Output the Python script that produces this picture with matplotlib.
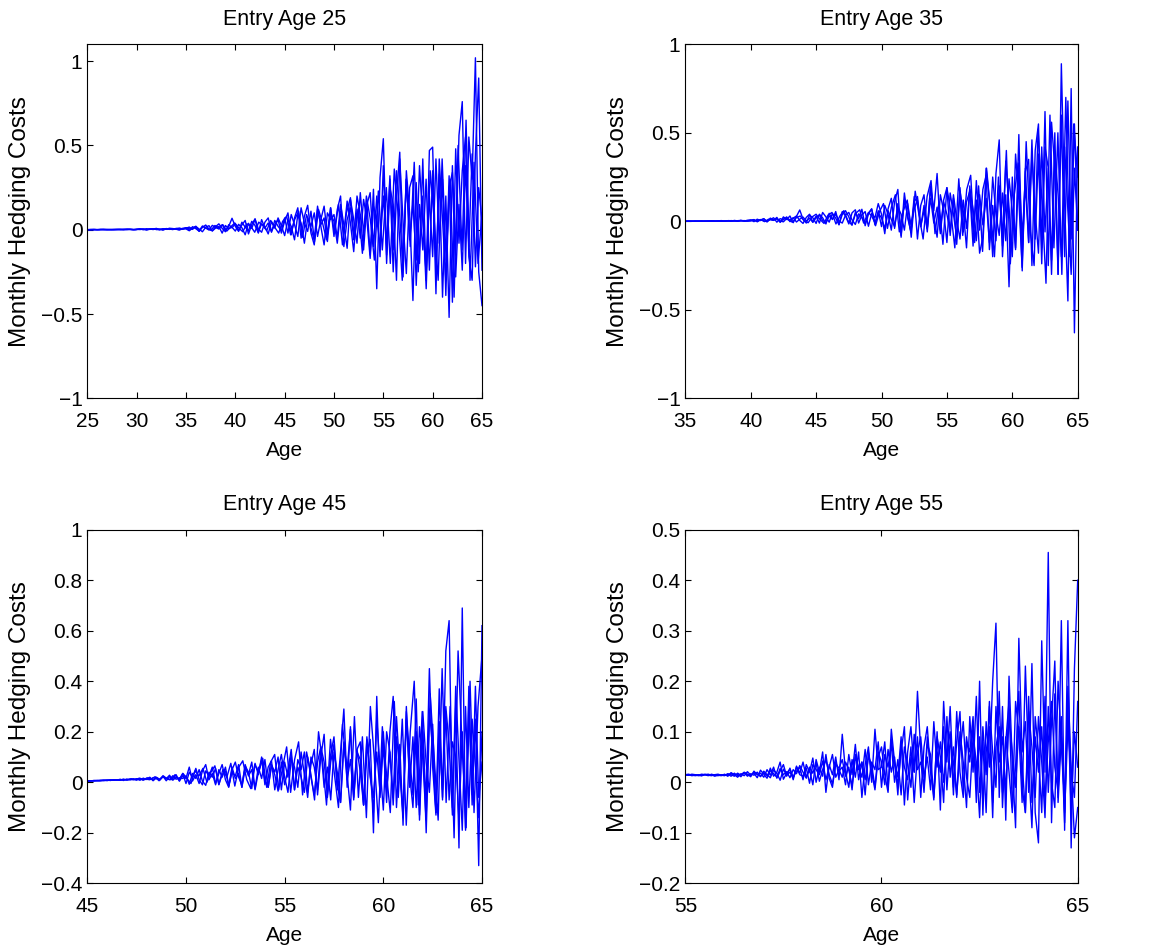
import numpy as np
import matplotlib
matplotlib.use("Agg")
import matplotlib.pyplot as plt
from matplotlib.ticker import MultipleLocator, FuncFormatter

DPI = 100
TICK_SIZE = 15
TITLE_SIZE = 15.5
XLABEL_SIZE = 15
YLABEL_SIZE = 17.5
LINE_COLOR = (0, 0, 1)
RETIREMENT_AGE = 65

# valores em milesimos, um caminho por lista
# entrada 25
entry25_a = [0, 1, 0, 1, 2, 1, 0, 1, 2, 1, 2, 1, 3, 2, 1,
             3, 1, 4, 2, 5, 1, 6, 3, 2, 7, 4, 1, 8, 5, 3,
             12, -4, 18, 6, -8, 22, 10, -2, 26, 14, 4, 30, -6, 20, 68,
             20, -10, 45, 15, -5, 50, 25, -20, 60, 10, 40, -15, 55, 20, -5,
             70, -20, 90, 30, -40, 130, 40, -10, 110, -60, 140, 20, -90, 100, 60,
             90, -50, 150, 30, -110, 180, 60, -80, 220, -20, 160, -150, 240, -350, 310,
             540, -150, 300, -250, 200, 460, -280, 350, 100, -420, 280, -200, 420, -300, 470,
             490, -250, 330, -400, 200, -520, 380, -150, 560, 760, -200, 550, 300, 1020, -250, -450]
entry25_b = [1, 0, 2, 0, 1, 2, 0, 1, 1, 2, 0, 3, 1, 2, 0,
             2, 5, 0, 6, 2, 4, 8, -1, 5, 3, 9, 2, 6, 10, 4,
             8, 16, 2, 20, -10, 14, 28, 4, -6, 18, 35, 8, -12, 30, 12,
             35, -5, 28, 55, -25, 30, 65, 5, -15, 45, 70, -10, 30, 60, -20,
             50, 100, -30, 70, 130, -50, 80, 145, -20, -90, 120, 30, 70, -70, 130,
             -40, 120, 200, -100, 60, 130, -60, 200, 90, -120, 150, 220, -100, 200, -160,
             380, -200, 250, 150, -300, 420, 50, -260, 250, 320, -330, 150, -120, 300, -240,
             350, -380, 420, 60, -300, 320, -430, 480, -80, 350, 550, -160, -300, 450, 900, -240]
entry25_c = [0, 1, 1, 0, 1, 0, 2, 1, 0, 1, 2, 0, 1, 2, 1,
             1, 3, 4, -2, 3, 6, 1, 4, -3, 6, 2, 7, 3, -2, 6,
             5, -6, 10, 20, 4, -12, 15, 24, -8, 10, 20, -20, 25, 6, 15,
             -8, 32, 12, -30, 38, 8, 62, -15, 35, 18, -25, 48, 10, 70, 25,
             -35, 60, 20, -60, 90, 40, -80, 70, 20, 100, -40, 60, 140, -30, 90,
             50, -80, 110, -20, 170, 40, -130, 120, -50, 180, 60, -170, 140, 70, -100,
             200, -90, 320, -120, 350, 80, -240, 300, -60, 160, -180, 380, 50, -260, 200,
             -160, 420, -80, 300, -390, 250, 340, -280, 150, -240, 380, -100, 450, -220, 250, 50]
entry25_d = [0, 1, 1, 0, 2, 1, 0, 1, 2, 1, 3, 2, 0, 4, 2, 1, 5, 3, 0, 6, 2, 8, 4, 1, 9,
             12, 2, 16, -5, 20, 8, -3, 25, 12, 30, -8, 18, 40, 10, -12, 35, 20, -15, 45, 25, -5, 55, 15, -20, 50,
             80, -30, 60, 110, -45, 90, 20, -70, 120, 40, -60, 130, -20, 150, -90, 100, 190, -60, 130, -140, 200, 60, -180, 230, -120,
             250, -200, 360, 80, -300, 300, -100, 400, -250, 200, -350, 350, 60, -300, 420, -180, 300, -400, 500, -120, 650, -300, 400, -200, 100]

# entrada 35
entry35_a = [0, 1, 0, 2, 1, 0, 2, 1, 3, 0, 2, 4, 1, 3, 0, 5, 2, 4, 1, 6,
             8, -2, 12, 4, 15, -4, 18, 6, 22, -6, 25, 10, 30, -8, 28, 64, 12, -10, 35, 20,
             -12, 40, 20, -15, 45, 10, 55, -18, 38, 60, 25, -22, 50, 15, 68, -25, 40, 70, -20, 60,
             -30, 90, 40, -50, 110, 180, -90, 120, 30, -60, 140, -100, 90, 150, -40, 200, 60, 270, -50, 120,
             190, -80, 130, -130, 170, 60, -150, 200, -60, 120, -180, -90, 300, 120, -200, 270, 460, -200, 150, -370,
             250, -150, 490, -200, 280, 350, -250, 400, 550, -150, 620, -250, 560, 300, -300, 890, 100, -450, 750, -630, 420]
entry35_b = [1, 0, 1, 1, 0, 2, 0, 1, 2, 1, 3, 0, 2, 1, 4, 2, 0, 5, 3, 1,
             4, 10, -3, 8, 14, 0, 10, 20, -5, 15, 8, 25, -2, 18, 30, 5, -12, 22, 40, -4,
             30, -10, 50, 25, -5, 45, 18, -20, 55, 30, -15, 48, 65, -10, 35, 55, -28, 45, 20, 100,
             40, -70, 70, 130, -40, 100, -80, 160, 20, -60, 110, 140, -30, 90, -60, 190, 30, -90, 150, 60,
             -120, 160, 40, -90, 190, -60, 110, 170, -140, 230, -50, 180, 260, -160, 90, -110, 200, -140, 340, 80,
             -200, 380, 120, -260, 300, -120, 460, -100, 380, -240, 420, 300, -220, 500, -300, 600, -200, 680, -100, 550, -50]
entry35_c = [0, 1, 1, 0, 1, 0, 1, 2, 0, 1, 1, 2, 0, 2, 1, 3, 1, 2, 4, 2,
             2, 6, 1, 9, 3, -1, 12, 5, 14, 2, -3, 16, 9, 20, -4, 12, 24, 2, 18, -6,
             20, 35, 5, -8, 30, 12, 40, 2, -10, 35, 50, 8, -18, 42, 22, -12, 50, 30, -8, 45,
             20, -40, 60, 10, -30, 80, 40, -50, 100, -20, 70, 120, -30, 60, -40, 130, -10, 80, -70, 110,
             40, -60, 150, 10, -100, 120, -40, 180, 70, -110, 150, -20, 130, -120, 250, 40, -80, 160, -110, 240,
             60, -160, 300, -80, 200, -120, 380, 50, -180, 420, -60, 300, -300, 400, 150, -200, 420, 60, -300, 300, -50]
entry35_d = [0, 1, 0, 1, 2, 0, 1, 3, 1, 0, 2, 4, 1, 3, 5, 0, 4, 8, 2, 10, -2, 12, 6, 15, -4,
             18, 8, -5, 20, 30, 2, -8, 25, 40, 10, -12, 35, 50, -15, 30, 60, 5, -20, 45, 65, -10, 40, 70, -25, 55,
             100, -40, 80, 150, -60, 60, 120, -90, 170, 30, -100, 140, 230, -70, 110, -130, 190, 50, -150, 240, -80, 180, 260, -120, 200,
             -170, 300, 60, -200, 250, -90, 400, -240, 150, 330, -280, 450, -50, -250, 520, 100, -350, 600, -150, 500, -300, 700, -200, 550, 250]

# entrada 45
entry45_a = [5, 6, 5, 7, 6, 8, 7, 9, 8, 10, 8, 11, 9, 12, 10, 14, 9, 15, 11, 18, 8, 20, 12, 24, 6, 22, 14, 30, 4, 25,
             15, 60, 5, 30, -5, 45, 70, 10, 35, -10, 50, 20, 60, -15, 40, 25, 70, -20, 55, 30, 80, -25, 60, 15, 90, -20, 70, 40, 100, -30,
             80, 20, 110, -30, 90, 50, 120, -40, 70, 130, -50, 100, 190, -60, 80, 150, -30, 120, 290, -20, 220, -40, 130, 160, -90, 110, 170, -200, 340, -60,
             150, -80, 200, 340, -100, 150, -170, 280, 100, -50, 330, -150, 200, -80, 450, 60, -130, 370, -60, 520, 640, -100, 300, -260, 690, -180, 380, -50, 250, -330, 620]
entry45_b = [6, 5, 7, 6, 8, 6, 9, 7, 10, 8, 12, 7, 13, 9, 14, 8, 16, 10, 12, 20, 6, 18, 10, 22, 14, 28, 8, 20, 12, 35,
             -5, 40, 20, 55, 10, -10, 45, 25, 60, -5, 35, 70, 10, -20, 50, 80, 20, -10, 65, 40, -25, 75, 30, 100, -10, 60, 85, -30, 50, 110,
             20, -40, 90, 60, -20, 120, 30, -60, 100, 60, -30, 140, 80, -50, 110, 180, -10, -80, 150, 50, 210, -60, 120, 90, -90, 170, 40, -120, 250, 60,
             -110, 200, 120, -60, 260, 40, -140, 300, -20, 180, -100, 220, 90, -150, 290, 130, -120, 240, -70, 300, 150, -130, 380, 90, -190, 300, -100, 250, 60, -140, 200]
entry45_c = [5, 6, 6, 7, 7, 8, 8, 9, 8, 10, 9, 11, 10, 12, 11, 13, 9, 16, 12, 10, 18, 14, 8, 22, 16, 10, 26, 12, 18, 15,
             25, -8, 35, 15, 50, 5, -12, 40, 20, 55, -8, 30, 45, -15, 60, 15, 35, -20, 70, 25, 50, -30, 40, 90, 5, -20, 65, 30, -35, 80,
             -10, 50, 130, -30, 60, 20, -40, 100, 20, -50, 80, 140, -20, 60, -70, 120, 40, -80, 160, 10, 90, -70, 130, 40, -90, 180, 20, -60, 120, -40,
             200, -30, 120, -90, 180, 60, -120, 250, 30, -100, 200, -130, 280, 80, -40, 230, -120, 180, -30, 280, -70, 160, 100, -150, 200, -190, 320, -90, 380, -60, 80]
entry45_d = [5, 6, 7, 6, 8, 7, 9, 10, 8, 12, 9, 14, 10, 16, 8, 18, 12, 22, 6, 26, 14, 10, 30, 8, 35,
             15, -5, 45, 25, 55, 0, 40, 65, -10, 50, 20, 75, -15, 60, 85, 10, -25, 70, 40, 95, -20, 80, 110, -30, 60,
             140, -40, 90, 160, -50, 120, 40, -70, 200, 80, -90, 170, 30, -100, 230, 60, -110, 260, -60, 180, -140, 300, 90, -160, 220,
             40, -120, 320, -60, 250, -170, 200, 400, -90, 280, -200, 350, 100, -150, 450, -80, 300, -220, 520, 150, -180, 400, -120, 300, 500]

# entrada 55: mensal
entry55_a = [15, 14, 15, 13, 14, 16, 15, 14, 13, 15, 16, 14,
             13, 17, 15, 12, 18, 14, 20, 16, 11, 22, 15, 18,
             10, 25, 14, 30, 8, 22, 35, 12, 28, 5, 32, 18,
             40, 10, 25, -5, 45, 20, 60, -20, 35, 15, 50, 5,
             95, 20, -10, 45, 10, 60, -30, 35, 70, 0, 105, 25,
             30, 80, -15, 105, 40, 10, 90, -45, 60, 110, 20, 180,
             60, -20, 90, 30, -35, 100, -55, 160, 40, 150, -10, 80,
             140, -20, 90, 40, 110, -40, 200, -65, 120, 30, 200, 315,
             -30, 150, -75, 210, 40, -90, 285, 60, 120, -20, 235, -60,
             -120, 280, 20, 455, -80, 175, -30, 320, -95, 320, -130, 225, 400]
entry55_b = [14, 15, 13, 14, 15, 13, 16, 14, 15, 12, 14, 13,
             16, 12, 19, 15, 10, 17, 13, 21, 14, 18, 9, 24,
             16, 8, 28, 12, 20, 40, 6, 18, 26, 10, 22, 30,
             5, 35, 20, 48, 0, 30, 12, 55, 8, -10, 40, 22,
             30, -5, 55, 15, 75, 5, 40, -25, 60, 20, -15, 50,
             70, 15, -20, 85, 35, -5, 60, 110, -35, 50, 20, 90,
             -30, 70, 110, 20, -20, 90, 50, -40, 130, 10, 70, -30,
             100, 40, -50, 130, 20, 170, -20, 80, -60, 150, 60, -10,
             180, -50, 90, 20, -60, 160, 100, -40, 230, 30, -90, 130,
             60, -60, 170, -20, 120, 240, -40, 90, -80, 190, 30, -110, -50]
entry55_c = [15, 16, 14, 15, 14, 13, 15, 16, 14, 15, 13, 15,
             14, 16, 12, 18, 13, 15, 19, 12, 17, 14, 20, 11,
             22, 15, 9, 24, 18, 4, 26, 14, 20, 8, 30, 15,
             12, 28, -2, 35, 25, 15, 42, 5, 30, 55, 10, 25,
             10, 40, 25, -8, 50, 30, 10, 65, -5, 40, 25, 80,
             -10, 55, 30, 75, 0, 45, -25, 70, 35, -10, 95, 25,
             40, -10, 75, 55, -30, 60, 20, 110, -15, 85, 40, -25,
             60, 120, 10, -30, 90, 40, -70, 110, 15, 160, -40, 70,
             110, -20, 80, 160, -50, 30, 180, -10, -60, 140, 70, -30,
             130, 40, -70, 150, 0, -50, 200, 80, -40, 150, -60, 100, 30]
entry55_d = [15, 14, 16, 15, 13, 14, 15, 13, 16, 14, 15, 14,
             15, 13, 18, 14, 16, 11, 19, 15, 13, 20, 16, 12,
             19, 13, 23, 17, 10, 27, 15, 21, 9, 25, 17, 33,
             20, 8, 30, 18, 38, 2, 25, 45, 15, -3, 35, 28,
             45, 12, 30, -15, 55, 25, 40, 5, 50, 35, -10, 60,
             40, -5, 65, 20, 50, -25, 80, 30, 5, 70, -40, 60,
             90, 10, 50, -15, 120, 30, 80, 0, 60, 100, -25, 140,
             20, -30, 80, 60, 130, -10, 90, -40, 60, 110, -70, 150,
             40, 90, -20, 130, 60, -10, 110, 40, -60, 170, -40, 90,
             20, 110, -40, 80, 160, 30, -20, 130, -60, 110, 20, -30, 160]

ENTRY_AGES = [25, 35, 45, 55]
PATHS = [[entry25_a, entry25_b, entry25_c, entry25_d],
         [entry35_a, entry35_b, entry35_c, entry35_d],
         [entry45_a, entry45_b, entry45_c, entry45_d],
         [entry55_a, entry55_b, entry55_c, entry55_d]]
Y_LIMITS = [(-1, 1.1), (-1, 1), (-0.4, 1), (-0.2, 0.5)]
Y_STEPS = [0.5, 0.5, 0.2, 0.1]
X_STEP = 5

# posicoes dos eixos em pixels (esquerda, direita, topo, base)
AX_PIXELS = [(87.3, 482.0, 44.3, 398.3),
             (685.3, 1077.7, 44.3, 398.3),
             (87.3, 482.0, 529.7, 883.3),
             (685.3, 1077.7, 529.7, 883.3)]
FIG_W, FIG_H = 1162, 950


def fmt_tick(v, pos):
    v = round(v, 6)
    if v == 0:
        return "0"
    return ("%g" % v).replace("-", "\u2212")


def main():
    plt.rcParams["font.family"] = ["Liberation Sans", "DejaVu Sans"]
    plt.rcParams["font.size"] = TICK_SIZE
    plt.rcParams["axes.linewidth"] = 0.8

    fig = plt.figure(figsize=(FIG_W / DPI, FIG_H / DPI), dpi=DPI)

    for k, entry in enumerate(ENTRY_AGES):
        l, r, t, b = AX_PIXELS[k]
        ax = fig.add_axes([l / FIG_W, 1 - b / FIG_H, (r - l) / FIG_W, (b - t) / FIG_H])

        # tracar caminhos
        for path in PATHS[k]:
            ages = np.linspace(entry, RETIREMENT_AGE, len(path))
            ax.plot(ages, np.array(path) / 1000.0, color=LINE_COLOR, linewidth=1.0)

        ax.set_xlim(entry, RETIREMENT_AGE)
        ax.set_ylim(*Y_LIMITS[k])
        ax.xaxis.set_major_locator(MultipleLocator(X_STEP))
        ax.yaxis.set_major_locator(MultipleLocator(Y_STEPS[k]))
        ax.yaxis.set_major_formatter(FuncFormatter(fmt_tick))
        ax.xaxis.set_major_formatter(FuncFormatter(fmt_tick))
        ax.tick_params(direction="in", top=True, right=True, length=4, width=0.8,
                       labelsize=TICK_SIZE)
        ax.tick_params(axis="x", pad=10)
        ax.tick_params(axis="y", pad=3.5)

        ax.set_title("Entry Age %d" % entry, fontsize=TITLE_SIZE, pad=14)
        ax.set_xlabel("Age", fontsize=XLABEL_SIZE, labelpad=7)
        ax.set_ylabel("Monthly Hedging Costs", fontsize=YLABEL_SIZE, labelpad=7)

    fig.savefig("out.png", dpi=DPI)


if __name__ == "__main__":
    main()
